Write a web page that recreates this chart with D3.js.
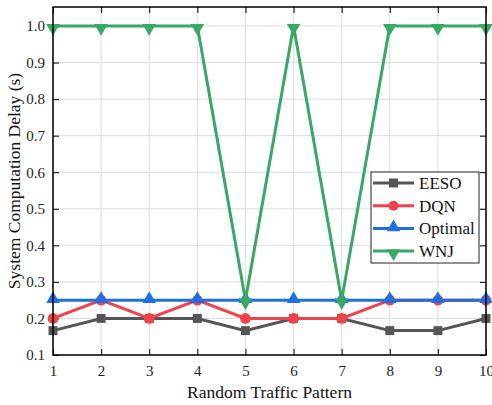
<!DOCTYPE html>
<html><head><meta charset="utf-8">
<script src="https://cdn.jsdelivr.net/npm/d3@7"></script>
<style>body{margin:0;background:#fff}svg{display:block}</style>
</head><body>
<script>
const patterns = [1,2,3,4,5,6,7,8,9,10];
const eeso    = [0.1667,0.2,0.2,0.2,0.1667,0.2,0.2,0.1667,0.1667,0.2];
const dqn     = [0.2,0.25,0.2,0.25,0.2,0.2,0.2,0.25,0.25,0.25];
const optimal = [0.25,0.25,0.25,0.25,0.25,0.25,0.25,0.25,0.25,0.25];
const wnj     = [1,1,1,1,0.25,1,0.25,1,1,1];
const yTicks = [0.1,0.2,0.3,0.4,0.5,0.6,0.7,0.8,0.9,1.0];
const seriesNames = ["EESO","DQN","Optimal","WNJ"];
const seriesColors = ["#555555","#f0424a","#1f6fe0","#38a865"];
const seriesSymbols = [d3.symbolSquare, d3.symbolCircle, d3.symbolTriangle, "down"];
const seriesData = [eeso,dqn,optimal,wnj];

const FF = "'Liberation Serif', 'Times New Roman', 'DejaVu Serif', serif";
const W=492,H=405, m={l:53,r:6,t:7,b:50};
const svg=d3.select("body").append("svg").attr("width",W).attr("height",H);
const x=d3.scaleLinear().domain([1,10]).range([m.l,W-m.r]);
const y=d3.scaleLinear().domain([0.1,1.052]).range([H-m.b,m.t]);
const pw=W-m.r-m.l, ph=H-m.b-m.t;

// grid
const g=svg.append("g");
g.selectAll(".vg").data(patterns).join("line").attr("x1",d=>x(d)).attr("x2",d=>x(d)).attr("y1",m.t).attr("y2",H-m.b).attr("stroke","#dcdcdc").attr("stroke-width",1);
g.selectAll(".hg").data(yTicks).join("line").attr("y1",d=>y(d)).attr("y2",d=>y(d)).attr("x1",m.l).attr("x2",W-m.r).attr("stroke","#dcdcdc").attr("stroke-width",1);

// axes with inward ticks
const tk=6;
svg.append("g").attr("transform",`translate(0,${H-m.b})`).call(d3.axisBottom(x).tickValues(patterns).tickFormat(d3.format("d")).tickSizeInner(-tk).tickSizeOuter(0).tickPadding(10))
  .call(a=>{a.attr("font-family",FF);a.select(".domain").remove();a.selectAll("text").attr("font-family",FF).attr("font-size",15).attr("fill","#222");a.selectAll("line").attr("stroke","#000");});
svg.append("g").attr("transform",`translate(${m.l},0)`).call(d3.axisLeft(y).tickValues(yTicks).tickFormat(d3.format(".1f")).tickSizeInner(-tk).tickSizeOuter(0).tickPadding(8))
  .call(a=>{a.attr("font-family",FF);a.select(".domain").remove();a.selectAll("text").attr("font-family",FF).attr("font-size",15).attr("fill","#222");a.selectAll("line").attr("stroke","#000");});
svg.append("g").attr("transform",`translate(0,${m.t})`).call(d3.axisTop(x).tickValues(patterns).tickFormat("").tickSizeInner(-tk).tickSizeOuter(0))
  .call(a=>{a.select(".domain").remove();a.selectAll("line").attr("stroke","#000");});
svg.append("g").attr("transform",`translate(${W-m.r},0)`).call(d3.axisRight(y).tickValues(yTicks).tickFormat("").tickSizeInner(-tk).tickSizeOuter(0))
  .call(a=>{a.select(".domain").remove();a.selectAll("line").attr("stroke","#000");});

function sym(s,size){ if(s==="down") return d3.symbol(d3.symbolTriangle,size)(); return d3.symbol(s,size)(); }
function off(s){ return s==="down"?2:(s===d3.symbolTriangle?-1:0); }
const line=d3.line().x((d,i)=>x(patterns[i])).y(d=>y(d));
const plot=svg.append("g");
seriesData.forEach((data,k)=>{
  const c=seriesColors[k], s=seriesSymbols[k];
  plot.append("path").attr("d",line(data)).attr("fill","none").attr("stroke",c).attr("stroke-width",3);
  plot.selectAll(null).data(data).join("path")
    .attr("d",sym(s,s===d3.symbolCircle?90:80))
    .attr("transform",(d,i)=>`translate(${x(patterns[i])},${y(d)+off(s)})${s==="down"?" rotate(180)":""}`)
    .attr("fill",c);
});

// frame
svg.append("rect").attr("x",m.l).attr("y",m.t).attr("width",pw).attr("height",ph).attr("fill","none").attr("stroke","#000").attr("stroke-width",1.5);

// legend
const lg=svg.append("g").attr("transform","translate(371,172)");
lg.append("rect").attr("width",108).attr("height",91).attr("fill","#fff").attr("stroke","#222").attr("stroke-width",1);
seriesNames.forEach((n,k)=>{
  const yy=11+k*22.7, c=seriesColors[k], s=seriesSymbols[k];
  lg.append("line").attr("x1",2).attr("x2",43).attr("y1",yy).attr("y2",yy).attr("stroke",c).attr("stroke-width",3);
  lg.append("path").attr("d",sym(s,80)).attr("transform",`translate(22.5,${yy+off(s)})${s==="down"?" rotate(180)":""}`).attr("fill",c);
  lg.append("text").attr("x",48).attr("y",yy+6).attr("font-family",FF).attr("font-size",17).attr("fill","#111").text(n);
});

// axis titles
svg.append("text").attr("x",(m.l+W-m.r)/2).attr("y",398).attr("text-anchor","middle").attr("font-family",FF).attr("font-size",17.5).attr("fill","#111").text("Random Traffic Pattern");
svg.append("text").attr("transform",`translate(20,${(m.t+H-m.b)/2}) rotate(-90)`).attr("text-anchor","middle").attr("font-family",FF).attr("font-size",17.5).attr("fill","#111").text("System Computation Delay (s)");
</script>
</body></html>
